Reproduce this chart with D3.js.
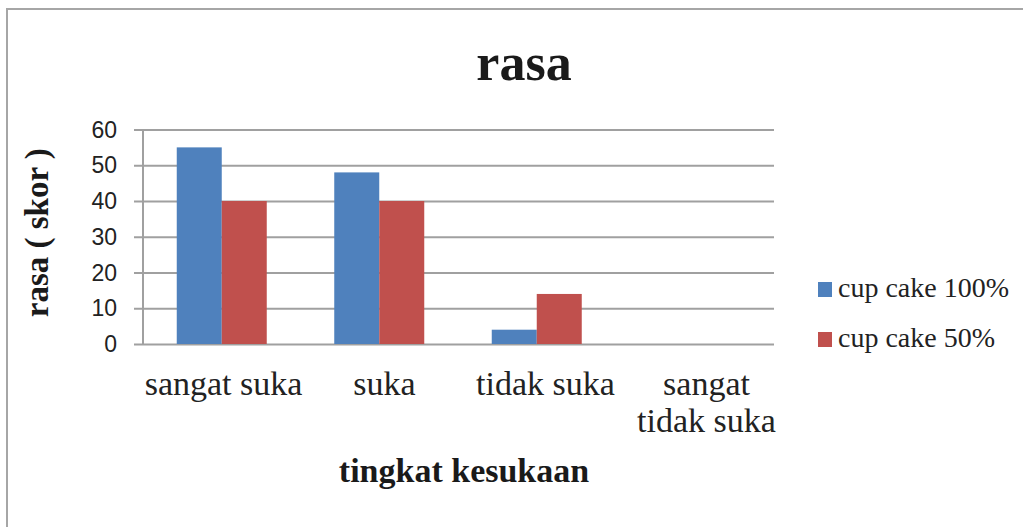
<!DOCTYPE html>
<html>
<head>
<meta charset="utf-8">
<script src="https://cdn.jsdelivr.net/npm/d3@7"></script>
<style>
  body { margin: 0; background: #fff; }
  svg { display: block; }
</style>
</head>
<body>
<svg id="chart"></svg>
<script>
// Data
const categories = ["sangat suka", "suka", "tidak suka", "sangat tidak suka"];
const seriesNames = ["cup cake 100%", "cup cake 50%"];
const cupCake100 = [55, 48, 4, 0];
const cupCake50 = [40, 40, 14, 0];
const yTicks = [0, 10, 20, 30, 40, 50, 60];
const seriesColors = ["#4f81bd", "#c0504d"];

const width = 1023;
const height = 527;
const plot = { left: 143, right: 773, top: 129.5, bottom: 344 };

const svg = d3.select("#chart")
    .attr("width", width)
    .attr("height", height);

// Chart border (runs off the right and bottom edges)
svg.append("rect")
    .attr("x", 7)
    .attr("y", 9)
    .attr("width", 1100)
    .attr("height", 600)
    .attr("fill", "#fff")
    .attr("stroke", "#a6a6a6")
    .attr("stroke-width", 2);

// Scales
const y = d3.scaleLinear()
    .domain([0, 60])
    .range([plot.bottom, plot.top]);

const x0 = d3.scaleBand()
    .domain(categories)
    .range([plot.left, plot.right]);

const x1 = d3.scaleBand()
    .domain(seriesNames)
    .range([0, x0.bandwidth()])
    .paddingOuter(0.75);

// labels sit on a slightly wider spacing than the bars
const xLabel = d3.scaleBand()
    .domain(categories)
    .range([plot.left, plot.right + 14]);

const color = d3.scaleOrdinal()
    .domain(seriesNames)
    .range(seriesColors);

// Y axis with gridlines
const yAxis = svg.append("g")
    .attr("transform", `translate(${plot.left},0)`)
    .call(d3.axisLeft(y).tickValues(yTicks).tickSize(0).tickPadding(26));

yAxis.select(".domain").remove();
yAxis.selectAll(".tick line")
    .attr("x1", -9)
    .attr("x2", plot.right - plot.left + 1)
    .attr("stroke", "#a0a0a0")
    .attr("stroke-width", 2);
yAxis.selectAll(".tick text")
    .attr("font-family", "'Liberation Sans', Arial, sans-serif")
    .attr("font-size", 23)
    .attr("fill", "#222")
    .attr("dy", "0.33em");

// vertical axis line
svg.append("line")
    .attr("x1", plot.left)
    .attr("x2", plot.left)
    .attr("y1", y(60))
    .attr("y2", y(0) + 1)
    .attr("stroke", "#a0a0a0")
    .attr("stroke-width", 2);

// Bars
const rows = categories.map((c, i) => ({
    category: c,
    values: [
        { name: seriesNames[0], value: cupCake100[i] },
        { name: seriesNames[1], value: cupCake50[i] }
    ]
}));

svg.append("g")
    .selectAll("g")
    .data(rows)
    .join("g")
    .attr("transform", d => `translate(${x0(d.category)},0)`)
    .selectAll("rect")
    .data(d => d.values.filter(v => v.value > 0))
    .join("rect")
    .attr("x", d => x1(d.name))
    .attr("y", d => y(d.value))
    .attr("width", x1.bandwidth())
    .attr("height", d => y(0) - y(d.value))
    .attr("fill", d => color(d.name));

// Category labels
const catLabels = svg.append("g")
    .selectAll("text")
    .data(categories)
    .join("text")
    .attr("x", d => xLabel(d) + xLabel.bandwidth() / 2)
    .attr("y", 395)
    .attr("text-anchor", "middle")
    .attr("font-family", "'Liberation Serif', 'Times New Roman', serif")
    .attr("font-size", 34)
    .attr("fill", "#222");

catLabels.each(function(d) {
    const lines = d === "sangat tidak suka" ? ["sangat", "tidak suka"] : [d];
    const t = d3.select(this);
    lines.forEach((line, i) => {
        t.append("tspan")
            .attr("x", xLabel(d) + xLabel.bandwidth() / 2)
            .attr("dy", i === 0 ? 0 : 37)
            .text(line);
    });
});

// Title
svg.append("text")
    .attr("x", 524)
    .attr("y", 80)
    .attr("text-anchor", "middle")
    .attr("font-family", "'Liberation Serif', 'Times New Roman', serif")
    .attr("font-weight", "bold")
    .attr("font-size", 52)
    .attr("fill", "#1a1a1a")
    .text("rasa");

// X axis title
svg.append("text")
    .attr("x", 464)
    .attr("y", 482)
    .attr("text-anchor", "middle")
    .attr("font-family", "'Liberation Serif', 'Times New Roman', serif")
    .attr("font-weight", "bold")
    .attr("font-size", 34)
    .attr("fill", "#1a1a1a")
    .text("tingkat kesukaan");

// Y axis title
svg.append("text")
    .attr("transform", `translate(48,${(plot.top + plot.bottom) / 2 - 4}) rotate(-90)`)
    .attr("text-anchor", "middle")
    .attr("font-family", "'Liberation Serif', 'Times New Roman', serif")
    .attr("font-weight", "bold")
    .attr("font-size", 33)
    .attr("fill", "#1a1a1a")
    .text("rasa ( skor )");

// Legend
const legend = svg.append("g")
    .selectAll("g")
    .data(seriesNames)
    .join("g")
    .attr("transform", (d, i) => `translate(818,${282 + i * 50})`);

legend.append("rect")
    .attr("width", 14)
    .attr("height", 15)
    .attr("fill", d => color(d));

legend.append("text")
    .attr("x", 20)
    .attr("y", 15)
    .attr("font-family", "'Liberation Serif', 'Times New Roman', serif")
    .attr("font-size", 28)
    .attr("fill", "#222")
    .text(d => d);
</script>
</body>
</html>
